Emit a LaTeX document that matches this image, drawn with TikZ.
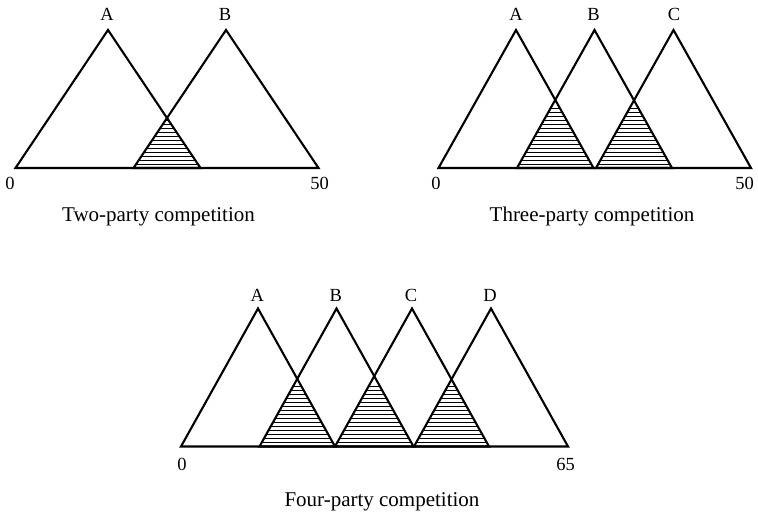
\documentclass[tikz,border=0pt]{standalone}
\usepackage{fontspec}
\setmainfont{Liberation Serif}
\begin{document}
\begin{tikzpicture}[x=1pt,y=-1pt,
  tri/.style={line width=2.1pt, line join=miter},
  hatchline/.style={line width=0.95pt},
  lbl/.style={font=\fontsize{18.5}{20}\selectfont, anchor=base, inner sep=0pt},
  capt/.style={font=\fontsize{21}{24}\selectfont, anchor=base, inner sep=0pt}]
\useasboundingbox (0,0) rectangle (758,513);

% ---------- Two-party ----------
\begin{scope}
  \clip (15.5,168) -- (108,30) -- (200.5,168) -- cycle;
  \clip (133.5,168) -- (226,30) -- (318.5,168) -- cycle;
  \foreach \yy in {0,4,...,60} \draw[hatchline] (0,{168-\yy}) -- (758,{168-\yy});
\end{scope}
\draw[tri] (15.5,168) -- (108,30) -- (200.5,168) -- cycle;
\draw[tri] (133.5,168) -- (226,30) -- (318.5,168) -- cycle;
\node[lbl] (tA) at (107,20.7) {A};
\node[lbl] (tB) at (225,20.7) {B};
\node[lbl] (tzero) at (10,190) {0};
\node[lbl] (tfifty) at (319.5,190) {50};
\node[capt] (tcap) at (158.5,221.7) {Two-party competition};

% ---------- Three-party ----------
\begin{scope}
  \clip (438.5,168) -- (516,30) -- (593.5,168) -- cycle;
  \clip (517,168) -- (594.5,30) -- (672,168) -- cycle;
  \foreach \yy in {0,4,...,60} \draw[hatchline] (0,{168-\yy}) -- (758,{168-\yy});
\end{scope}
\begin{scope}
  \clip (517,168) -- (594.5,30) -- (672,168) -- cycle;
  \clip (596,168) -- (673.5,30) -- (751,168) -- cycle;
  \foreach \yy in {0,4,...,60} \draw[hatchline] (0,{168-\yy}) -- (758,{168-\yy});
\end{scope}
\draw[tri] (438.5,168) -- (516,30) -- (593.5,168) -- cycle;
\draw[tri] (517,168) -- (594.5,30) -- (672,168) -- cycle;
\draw[tri] (596,168) -- (673.5,30) -- (751,168) -- cycle;
\node[lbl] (hA) at (516,20.7) {A};
\node[lbl] (hB) at (593.5,20.7) {B};
\node[lbl] (hC) at (674,20.7) {C};
\node[lbl] (hzero) at (436,190) {0};
\node[lbl] (hfifty) at (744.5,190) {50};
\node[capt] (hcap) at (592,221.7) {Three-party competition};

% ---------- Four-party ----------
\begin{scope}
  \clip (181,446.5) -- (258,308.5) -- (335,446.5) -- cycle;
  \clip (259.5,446.5) -- (336.5,308.5) -- (413.5,446.5) -- cycle;
  \foreach \yy in {0,4,...,60} \draw[hatchline] (0,{446.5-\yy}) -- (758,{446.5-\yy});
\end{scope}
\begin{scope}
  \clip (259.5,446.5) -- (336.5,308.5) -- (413.5,446.5) -- cycle;
  \clip (335,446.5) -- (412,308.5) -- (489,446.5) -- cycle;
  \foreach \yy in {0,4,...,60} \draw[hatchline] (0,{446.5-\yy}) -- (758,{446.5-\yy});
\end{scope}
\begin{scope}
  \clip (335,446.5) -- (412,308.5) -- (489,446.5) -- cycle;
  \clip (414,446.5) -- (491,308.5) -- (568,446.5) -- cycle;
  \foreach \yy in {0,4,...,60} \draw[hatchline] (0,{446.5-\yy}) -- (758,{446.5-\yy});
\end{scope}
\draw[tri] (181,446.5) -- (258,308.5) -- (335,446.5) -- cycle;
\draw[tri] (259.5,446.5) -- (336.5,308.5) -- (413.5,446.5) -- cycle;
\draw[tri] (335,446.5) -- (412,308.5) -- (489,446.5) -- cycle;
\draw[tri] (414,446.5) -- (491,308.5) -- (568,446.5) -- cycle;
\node[lbl] (fA) at (257.3,301.7) {A};
\node[lbl] (fB) at (335.7,301.7) {B};
\node[lbl] (fC) at (411,301.7) {C};
\node[lbl] (fD) at (490,301.7) {D};
\node[lbl] (fzero) at (182,470) {0};
\node[lbl] (fsixtyfive) at (565.5,470) {65};
\node[capt] (fcap) at (382,506.7) {Four-party competition};
\end{tikzpicture}
\end{document}
